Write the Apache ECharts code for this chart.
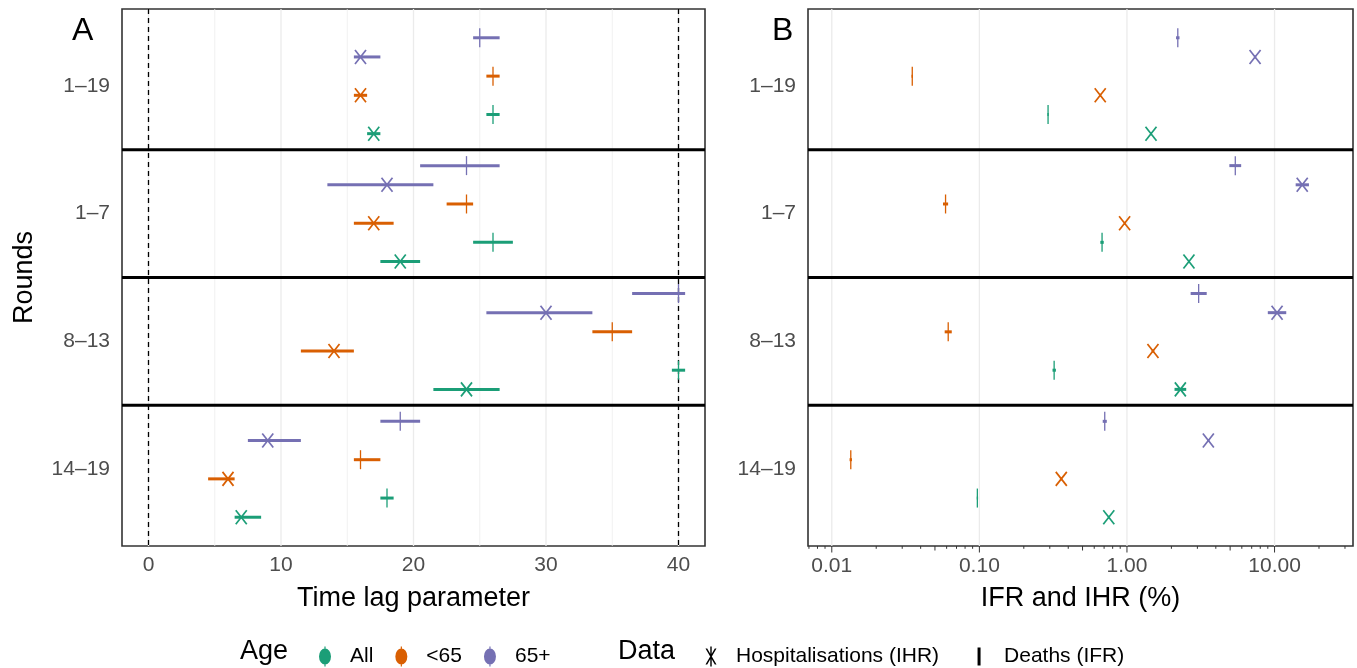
<!DOCTYPE html>
<html>
<head>
<meta charset="utf-8">
<title>Time lag, IFR and IHR</title>
<script src="https://cdn.jsdelivr.net/npm/echarts@6/dist/echarts.min.js"></script>
<style>
html, body { margin: 0; padding: 0; background: #fff; }
#main { width: 1357px; height: 668px; }
</style>
</head>
<body>
<div id="main"></div>
<script>
var rounds = ['1–19', '1–7', '8–13', '14–19'];
var roundPos = [4, 3, 2, 1];
var ages = ['All', '<65', '65+'];
var ageColors = ['#1b9e77', '#d95f02', '#7570b3'];
// dodge inside a round: IHR and IFR per age group
var ihrOffset = [-0.375, -0.075, 0.225];
var ifrOffset = [-0.225, 0.075, 0.375];

// panel A, time lag: [estimate, lower, upper] per round
var lagIhrAll = [[17, 16.5, 17.5], [19, 17.5, 20.5], [24, 21.5, 26.5], [7, 6.5, 8.5]];
var lagIhrU65 = [[16, 15.5, 16.5], [17, 15.5, 18.5], [14, 11.5, 15.5], [6, 4.5, 6.5]];
var lagIhr65p = [[16, 15.5, 17.5], [18, 13.5, 21.5], [30, 25.5, 33.5], [9, 7.5, 11.5]];
var lagIfrAll = [[26, 25.5, 26.5], [26, 24.5, 27.5], [40, 39.5, 40.5], [18, 17.5, 18.5]];
var lagIfrU65 = [[26, 25.5, 26.5], [24, 22.5, 24.5], [35, 33.5, 36.5], [16, 15.5, 17.5]];
var lagIfr65p = [[25, 24.5, 26.5], [24, 20.5, 26.5], [40, 36.5, 40.5], [19, 17.5, 20.5]];

// panel B, IHR and IFR (%): [estimate, lower, upper] per round
var ihrAll = [[1.455, 1.44, 1.47], [2.63, 2.6, 2.66], [2.3, 2.1, 2.52], [0.753, 0.745, 0.76]];
var ihrU65 = [[0.659, 0.652, 0.666], [0.964, 0.955, 0.975], [1.5, 1.47, 1.53], [0.359, 0.355, 0.363]];
var ihr65p = [[7.38, 7.25, 7.5], [15.4, 13.9, 17.1], [10.4, 9.0, 12.0], [3.56, 3.5, 3.62]];
var ifrAll = [[0.292, 0.289, 0.295], [0.678, 0.66, 0.696], [0.321, 0.313, 0.33], [0.0969, 0.096, 0.098]];
var ifrU65 = [[0.0351, 0.0347, 0.0355], [0.059, 0.0567, 0.0614], [0.0615, 0.0582, 0.065], [0.01345, 0.0132, 0.0137]];
var ifr65p = [[2.21, 2.15, 2.27], [5.42, 4.94, 5.94], [3.06, 2.7, 3.47], [0.707, 0.685, 0.73]];

var lagGridMajor = [0, 10, 20, 30, 40];
var lagGridMinor = [5, 15, 25, 35];
var lagRefLines = [0, 40];
var rateGrid = [0.01, 0.1, 1, 10];
var rateTicksLong = [0.01, 0.1, 1, 10];
var rateTicksMid = [0.05, 0.5, 5];
var rateTicksShort = [0.007, 0.008, 0.009, 0.02, 0.03, 0.04, 0.06, 0.07, 0.08, 0.09,
  0.2, 0.3, 0.4, 0.6, 0.7, 0.8, 0.9, 2, 3, 4, 6, 7, 8, 9, 20, 30];
var roundSeparators = [1.5, 2.5, 3.5];

var FONT = '"Liberation Sans", Arial, sans-serif';
var chart = echarts.init(document.getElementById('main'));

function markRenderer(kind) {
  return function (params, api) {
    var y = api.value(1);
    var c = api.coord([api.value(0), y]);
    var lo = api.coord([api.value(2), y]);
    var hi = api.coord([api.value(3), y]);
    var color = api.visual('color');
    var kids = [{ type: 'line', shape: { x1: lo[0], y1: c[1], x2: hi[0], y2: c[1] },
      style: { stroke: color, lineWidth: 3 } }];
    if (kind === 'ihr') {
      kids.push({ type: 'line', shape: { x1: c[0] - 5.5, y1: c[1] - 7, x2: c[0] + 5.5, y2: c[1] + 7 },
        style: { stroke: color, lineWidth: 1.7 } });
      kids.push({ type: 'line', shape: { x1: c[0] + 5.5, y1: c[1] - 7, x2: c[0] - 5.5, y2: c[1] + 7 },
        style: { stroke: color, lineWidth: 1.7 } });
    } else {
      kids.push({ type: 'line', shape: { x1: c[0], y1: c[1] - 9.5, x2: c[0], y2: c[1] + 9.5 },
        style: { stroke: color, lineWidth: 1.3 } });
    }
    return { type: 'group', children: kids };
  };
}

function vLineRenderer(color, width, dash) {
  return function (params, api) {
    var cs = params.coordSys;
    var x = api.coord([api.value(0), 1])[0];
    return { type: 'line', shape: { x1: x, y1: cs.y, x2: x, y2: cs.y + cs.height },
      style: { stroke: color, lineWidth: width, lineDash: dash || null } };
  };
}

function hLineRenderer(params, api) {
  var cs = params.coordSys;
  var y = api.coord([1, api.value(0)])[1];
  return { type: 'line', shape: { x1: cs.x, y1: y, x2: cs.x + cs.width, y2: y },
    style: { stroke: '#000', lineWidth: 3 } };
}

function tickRenderer(len) {
  return function (params, api) {
    var cs = params.coordSys;
    var x = api.coord([api.value(0), 1])[0];
    var yb = cs.y + cs.height;
    return { type: 'line', shape: { x1: x, y1: yb, x2: x, y2: yb + len },
      style: { stroke: '#333', lineWidth: 1 } };
  };
}

function toRows(list, offset) {
  return list.map(function (r, i) { return [r[0], roundPos[i] + offset, r[1], r[2]]; });
}

function one(v) { return [v]; }

var series = [];
// backgrounds
series.push({ type: 'custom', xAxisIndex: 0, yAxisIndex: 0, z: 1, silent: true,
  renderItem: vLineRenderer('#ebebeb', 1.3), data: lagGridMajor.map(one) });
series.push({ type: 'custom', xAxisIndex: 0, yAxisIndex: 0, z: 1, silent: true,
  renderItem: vLineRenderer('#ededed', 0.8), data: lagGridMinor.map(one) });
series.push({ type: 'custom', xAxisIndex: 1, yAxisIndex: 1, z: 1, silent: true,
  renderItem: vLineRenderer('#ebebeb', 1.3), data: rateGrid.map(one) });
series.push({ type: 'custom', xAxisIndex: 0, yAxisIndex: 0, z: 2, silent: true,
  renderItem: vLineRenderer('#000', 1.3, [5, 4]), data: lagRefLines.map(one) });
[0, 1].forEach(function (p) {
  series.push({ type: 'custom', xAxisIndex: p, yAxisIndex: p, z: 4, silent: true,
    renderItem: hLineRenderer, data: roundSeparators.map(one) });
});
[[rateTicksLong, 6.5], [rateTicksMid, 4.5], [rateTicksShort, 2.8]].forEach(function (t) {
  series.push({ type: 'custom', xAxisIndex: 1, yAxisIndex: 1, z: 4, silent: true, clip: false,
    renderItem: tickRenderer(t[1]), data: t[0].map(one) });
});

// marks
var panels = [
  { ihr: [lagIhrAll, lagIhrU65, lagIhr65p], ifr: [lagIfrAll, lagIfrU65, lagIfr65p] },
  { ihr: [ihrAll, ihrU65, ihr65p], ifr: [ifrAll, ifrU65, ifr65p] }
];
panels.forEach(function (panel, p) {
  ages.forEach(function (age, a) {
    series.push({ type: 'custom', name: age, xAxisIndex: p, yAxisIndex: p, z: 3,
      itemStyle: { color: ageColors[a] }, renderItem: markRenderer('ihr'),
      data: toRows(panel.ihr[a], ihrOffset[a]) });
    series.push({ type: 'custom', name: age, xAxisIndex: p, yAxisIndex: p, z: 3,
      itemStyle: { color: ageColors[a] }, renderItem: markRenderer('ifr'),
      data: toRows(panel.ifr[a], ifrOffset[a]) });
  });
});
// legend-only entries for the data type
series.push({ type: 'custom', name: 'Hospitalisations (IHR)', xAxisIndex: 0, yAxisIndex: 0,
  itemStyle: { color: '#000' }, renderItem: function () { return null; }, data: [] });
series.push({ type: 'custom', name: 'Deaths (IFR)', xAxisIndex: 0, yAxisIndex: 0,
  itemStyle: { color: '#000' }, renderItem: function () { return null; }, data: [] });

var CORNERS = 'M0,0h0.01v0.01h-0.01zM25.99,19.99h0.01v0.01h-0.01z';
var ageIcon = 'path://' + CORNERS + 'M5.4,0H6.6V20H5.4zM0,10A6,8 0 1 1 12,10A6,8 0 1 1 0,10z';
var ihrIcon = 'path://' + CORNERS + 'M0.5,2L2.2,2L11.5,18L9.8,18zM9.8,2L11.5,2L2.2,18L0.5,18zM5.3,0H6.7V20H5.3z';
var ifrIcon = 'path://' + CORNERS + 'M4.5,1H7.5V19H4.5z';

var roundLabel = {};
rounds.forEach(function (r, i) { roundLabel[roundPos[i]] = r; });

function yAxisFor(p) {
  return {
    type: 'value', gridIndex: p, min: 0.4, max: 4.6,
    name: p === 0 ? 'Rounds' : '', nameLocation: 'middle', nameGap: 84, nameRotate: 90,
    nameTextStyle: { fontSize: 27, color: '#000', fontFamily: FONT },
    axisLine: { show: false }, axisTick: { show: false }, splitLine: { show: false },
    axisLabel: { margin: 12, fontSize: 21, color: '#4d4d4d', fontFamily: FONT,
      formatter: function (v) { return roundLabel[v] || ''; } }
  };
}

var option = {
  animation: false,
  textStyle: { fontFamily: FONT },
  grid: [
    { left: 122, top: 9, width: 583, height: 537, show: true, borderColor: '#333', borderWidth: 1.6, backgroundColor: 'transparent' },
    { left: 808, top: 9, width: 545, height: 537, show: true, borderColor: '#333', borderWidth: 1.6, backgroundColor: 'transparent' }
  ],
  xAxis: [
    { type: 'value', gridIndex: 0, min: -2, max: 42,
      name: 'Time lag parameter', nameLocation: 'middle', nameGap: 39,
      nameTextStyle: { fontSize: 27, color: '#000', fontFamily: FONT },
      axisLine: { show: false }, axisTick: { show: false }, splitLine: { show: false },
      axisLabel: { margin: 9, fontSize: 21, color: '#4d4d4d', fontFamily: FONT,
        formatter: function (v) { return v % 10 === 0 ? String(v) : ''; } } },
    { type: 'log', logBase: 10, gridIndex: 1, min: 0.0069, max: 34,
      name: 'IFR and IHR (%)', nameLocation: 'middle', nameGap: 39,
      nameTextStyle: { fontSize: 27, color: '#000', fontFamily: FONT },
      axisLine: { show: false }, axisTick: { show: false }, splitLine: { show: false },
      axisLabel: { margin: 10, fontSize: 21, color: '#4d4d4d', fontFamily: FONT,
        formatter: function (v) {
          var l = Math.log(v) / Math.LN10;
          return Math.abs(l - Math.round(l)) < 1e-6 ? v.toFixed(2) : '';
        } } }
  ],
  yAxis: [yAxisFor(0), yAxisFor(1)],
  legend: [
    { left: 314, top: 641, itemWidth: 26, itemHeight: 20, itemGap: 22, selectedMode: false,
      textStyle: { fontSize: 21, color: '#000', fontFamily: FONT },
      data: ages.map(function (a) { return { name: a, icon: ageIcon }; }) },
    { left: 700, top: 641, itemWidth: 26, itemHeight: 20, itemGap: 34, selectedMode: false,
      textStyle: { fontSize: 21, color: '#000', fontFamily: FONT },
      data: [{ name: 'Hospitalisations (IHR)', icon: ihrIcon }, { name: 'Deaths (IFR)', icon: ifrIcon }] }
  ],
  graphic: [
    { type: 'text', left: 72, top: 15, style: { text: 'A', font: '32px ' + FONT, fill: '#000' } },
    { type: 'text', left: 772, top: 15, style: { text: 'B', font: '32px ' + FONT, fill: '#000' } },
    { type: 'text', left: 240, top: 638, style: { text: 'Age', font: '27px ' + FONT, fill: '#000' } },
    { type: 'text', left: 618, top: 638, style: { text: 'Data', font: '27px ' + FONT, fill: '#000' } }
  ],
  series: series
};

chart.setOption(option);
</script>
</body>
</html>
